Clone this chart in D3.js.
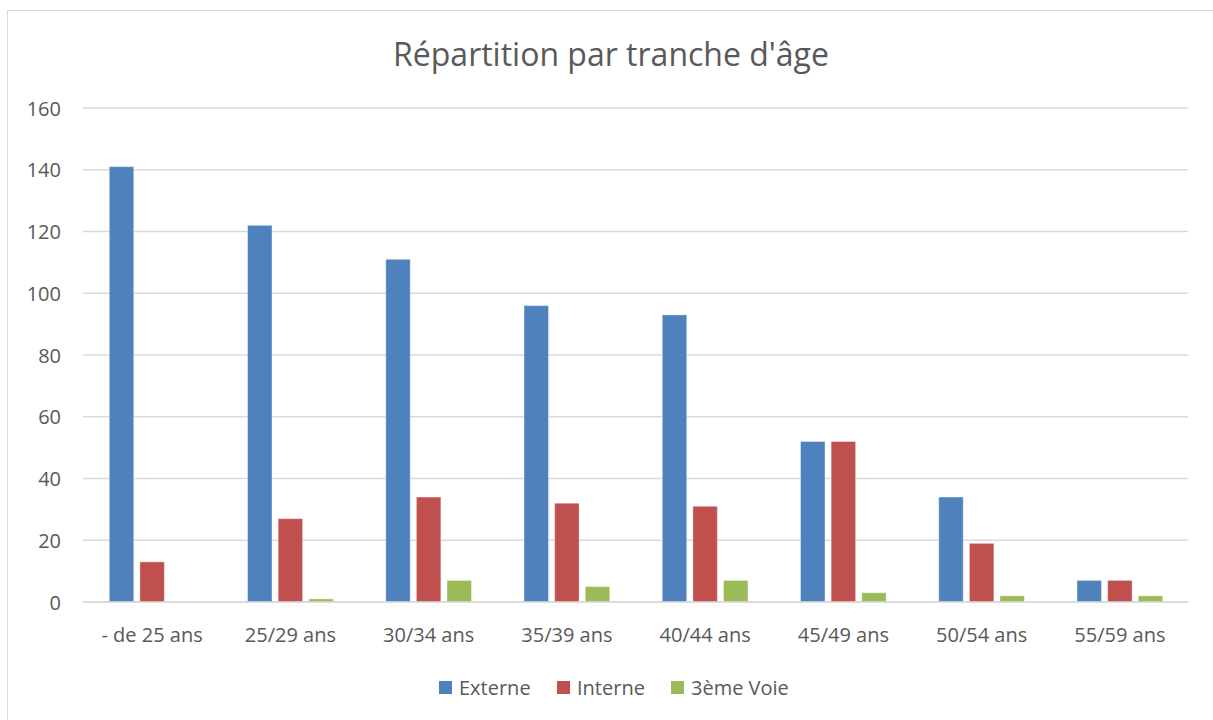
<!DOCTYPE html>
<html>
<head>
<meta charset="utf-8">
<script src="https://cdn.jsdelivr.net/npm/d3@7"></script>
<style>
  body { margin: 0; background: #fff; }
  text { font-family: "Open Sans", "Liberation Sans", sans-serif; fill: #595959; }
</style>
</head>
<body>
<div id="vis"></div>
<script>
// donnees
const categories = ["- de 25 ans", "25/29 ans", "30/34 ans", "35/39 ans", "40/44 ans", "45/49 ans", "50/54 ans", "55/59 ans"];
const series = ["Externe", "Interne", "3ème Voie"];
const externe = [141, 122, 111, 96, 93, 52, 34, 7];
const interne = [13, 27, 34, 32, 31, 52, 19, 7];
const troisiemeVoie = [0, 1, 7, 5, 7, 3, 2, 2];
const yTicks = [0, 20, 40, 60, 80, 100, 120, 140, 160];
const colors = ["#4F81BD", "#C0504D", "#9BBB59"];

const WIDTH = 1213;
const HEIGHT = 720;
const MARGIN = { top: 108, bottom: 118, left: 83, right: 24 };

const svg = d3.select("#vis").append("svg")
  .attr("width", WIDTH)
  .attr("height", HEIGHT);

// cadre du graphique
svg.append("rect")
  .attr("x", 7.5).attr("y", 10.5)
  .attr("width", WIDTH + 20).attr("height", HEIGHT + 20)
  .attr("fill", "#fff")
  .attr("stroke", "#d9d9d9");

const x0 = d3.scaleBand()
  .domain(categories)
  .range([MARGIN.left, WIDTH - MARGIN.right])
  .paddingInner(0.38)
  .paddingOuter(0.19);

const x1 = d3.scaleBand()
  .domain(series)
  .range([0, x0.bandwidth()])
  .paddingInner(0.2);

const y = d3.scaleLinear()
  .domain([0, 160])
  .range([HEIGHT - MARGIN.bottom, MARGIN.top]);

// grille horizontale
svg.append("g")
  .selectAll("line")
  .data(yTicks)
  .join("line")
  .attr("x1", MARGIN.left)
  .attr("x2", WIDTH - MARGIN.right - 1)
  .attr("y1", d => y(d))
  .attr("y2", d => y(d))
  .attr("stroke", "#d9d9d9")
  .attr("stroke-width", 1.5);

// axe y
const yAxis = svg.append("g")
  .attr("transform", `translate(${MARGIN.left - 22}, 0)`)
  .call(d3.axisLeft(y).tickValues(yTicks).tickSize(0).tickPadding(0));
yAxis.select(".domain").remove();
yAxis.selectAll("text")
  .style("font-size", "20px")
  .attr("dy", "0.35em")
  .attr("fill", "#595959");

// barres
const table = categories.map((c, i) => ({
  cat: c,
  values: [externe[i], interne[i], troisiemeVoie[i]]
}));

const groups = svg.append("g")
  .selectAll("g")
  .data(table)
  .join("g")
  .attr("transform", d => `translate(${x0(d.cat)}, 0)`);

groups.selectAll("rect")
  .data(d => d.values.map((v, j) => ({ serie: series[j], value: v, j: j })))
  .join("rect")
  .filter(d => d.value > 0)
  .attr("x", d => x1(d.serie))
  .attr("y", d => y(d.value))
  .attr("width", x1.bandwidth())
  .attr("height", d => y(0) - y(d.value))
  .attr("fill", d => colors[d.j])
  .attr("stroke", "#ffffff")
  .attr("stroke-opacity", 0.4)
  .attr("stroke-width", 1);

// ligne de base
svg.append("line")
  .attr("x1", MARGIN.left)
  .attr("x2", WIDTH - MARGIN.right - 1)
  .attr("y1", y(0))
  .attr("y2", y(0))
  .attr("stroke", "#d9d9d9")
  .attr("stroke-width", 1.5);

// axe x
const xAxis = svg.append("g")
  .attr("transform", `translate(0, ${y(0)})`)
  .call(d3.axisBottom(x0).tickSize(0).tickPadding(26));
xAxis.select(".domain").remove();
xAxis.selectAll("text")
  .style("font-size", "20px")
  .attr("fill", "#595959");

// titre
svg.append("text")
  .attr("x", 611)
  .attr("y", 66)
  .attr("text-anchor", "middle")
  .style("font-size", "32px")
  .text("Répartition par tranche d'âge");

// legende
const legendX = [439, 557, 671];
const legend = svg.append("g")
  .selectAll("g")
  .data(series)
  .join("g")
  .attr("transform", (d, i) => `translate(${legendX[i]}, 681)`);

legend.append("rect")
  .attr("width", 13)
  .attr("height", 13)
  .attr("fill", (d, i) => colors[i]);

legend.append("text")
  .attr("x", 20)
  .attr("y", 7)
  .attr("dy", "0.35em")
  .style("font-size", "20px")
  .text(d => d);
</script>
</body>
</html>
